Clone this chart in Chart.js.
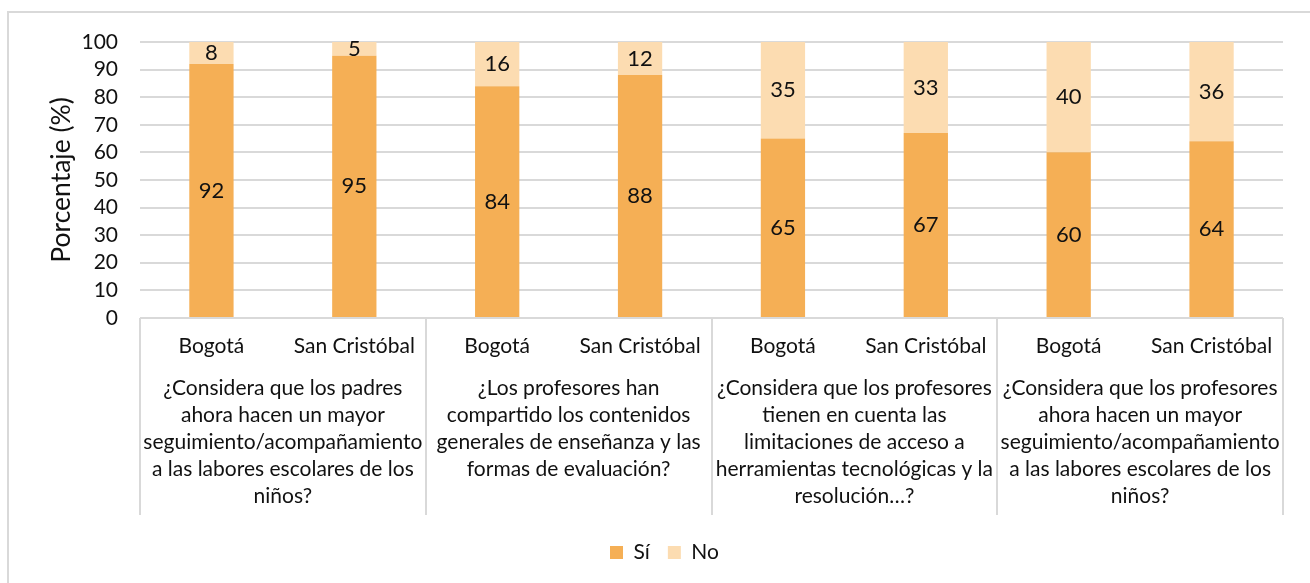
<!DOCTYPE html>
<html>
<head>
<meta charset="utf-8">
<script src="https://cdn.jsdelivr.net/npm/chart.js@4"></script>
<style>
  html, body { margin: 0; padding: 0; background: #fff; }
  #wrap { position: relative; width: 1310px; height: 583px; overflow: hidden; }
  #frame { position: absolute; left: 7px; top: 11px; width: 1320px; height: 600px;
           border-top: 2px solid #d9d9d9; border-left: 2px solid #d9d9d9; }
  canvas { position: absolute; left: 0; top: 0; }
</style>
</head>
<body>
<div id="wrap">
  <div id="frame"></div>
  <canvas id="chart" width="1310" height="583"></canvas>
</div>
<script>
const cities = ['Bogotá', 'San Cristóbal', 'Bogotá', 'San Cristóbal', 'Bogotá', 'San Cristóbal', 'Bogotá', 'San Cristóbal'];
const questions = [
    ['¿Considera que los padres', 'ahora hacen un mayor', 'seguimiento/acompañamiento', 'a las labores escolares de los', 'niños?'],
    ['¿Los profesores han', 'compartido los contenidos', 'generales de enseñanza y las', 'formas de evaluación?'],
    ['¿Considera que los profesores', 'tienen en cuenta las', 'limitaciones de acceso a', 'herramientas tecnológicas y la', 'resolución…?'],
    ['¿Considera que los profesores', 'ahora hacen un mayor', 'seguimiento/acompañamiento', 'a las labores escolares de los', 'niños?']
];
const si = [92, 95, 84, 88, 65, 67, 60, 64];
const no = [8, 5, 16, 12, 35, 33, 40, 36];
const yTicks = [0, 10, 20, 30, 40, 50, 60, 70, 80, 90, 100];

const FONT = 'Lato, "Noto Sans", sans-serif';
const GRID = '#d9d9d9';
const LEGEND_GAP = 14;

// numbers in the middle of each stacked segment
const segmentLabels = {
    id: 'segmentLabels',
    afterDatasetsDraw(chart) {
        const ctx = chart.ctx;
        ctx.save();
        ctx.font = '22px ' + FONT;
        ctx.fillStyle = '#111';
        ctx.textAlign = 'center';
        ctx.textBaseline = 'middle';
        chart.data.datasets.forEach((ds, i) => {
            chart.getDatasetMeta(i).data.forEach((bar, j) => {
                ctx.fillText(ds.data[j], bar.x, (bar.y + bar.base) / 2);
            });
        });
        ctx.restore();
    }
};

// vertical dividers between the question groups, through both label rows
const groupDividers = {
    id: 'groupDividers',
    afterDraw(chart) {
        const x = chart.scales.x;
        const g = chart.scales.groups;
        const per = cities.length / questions.length;
        const ctx = chart.ctx;
        ctx.save();
        ctx.strokeStyle = GRID;
        ctx.lineWidth = 2;
        for (let k = 0; k <= questions.length; k++) {
            let px;
            if (k === 0) px = chart.chartArea.left;
            else if (k === questions.length) px = chart.chartArea.right;
            else px = (x.getPixelForValue(k * per - 1) + x.getPixelForValue(k * per)) / 2;
            ctx.beginPath();
            ctx.moveTo(Math.round(px), chart.chartArea.bottom);
            ctx.lineTo(Math.round(px), g.bottom - LEGEND_GAP + 5);
            ctx.stroke();
        }
        ctx.restore();
    }
};

new Chart(document.getElementById('chart').getContext('2d'), {
    type: 'bar',
    data: {
        labels: cities,
        datasets: [
            { label: 'Sí', data: si, backgroundColor: '#f5af55' },
            { label: 'No', data: no, backgroundColor: '#fcdcb1' }
        ]
    },
    options: {
        responsive: false,
        animation: false,
        categoryPercentage: 1,
        barPercentage: 0.31,
        layout: { padding: { left: 46, right: 27, top: 42, bottom: 10 } },
        plugins: {
            legend: {
                position: 'bottom',
                labels: {
                    font: { family: FONT, size: 21 },
                    color: '#111',
                    boxWidth: 13,
                    boxHeight: 13,
                    padding: 18
                }
            },
            tooltip: { enabled: false }
        },
        scales: {
            x: {
                stacked: true,
                grid: { display: false },
                border: { display: false },
                ticks: {
                    font: { family: FONT, size: 21 },
                    color: '#111',
                    maxRotation: 0,
                    autoSkip: false,
                    padding: 8
                }
            },
            groups: {
                type: 'category',
                position: 'bottom',
                labels: questions,
                offset: true,
                grid: { display: false },
                border: { display: false },
                afterFit(scale) {
                    scale.height += LEGEND_GAP;
                },
                ticks: {
                    font: { family: FONT, size: 21, lineHeight: 1.285 },
                    color: '#111',
                    maxRotation: 0,
                    autoSkip: false,
                    padding: 0
                }
            },
            y: {
                stacked: true,
                min: 0,
                max: 100,
                afterBuildTicks(scale) {
                    scale.ticks = yTicks.map(v => ({ value: v }));
                },
                afterFit(scale) {
                    scale.width = 94;
                },
                grid: { color: GRID, lineWidth: 2, drawTicks: false },
                border: { display: false },
                ticks: {
                    font: { family: FONT, size: 21 },
                    color: '#111',
                    autoSkip: false,
                    padding: 22
                },
                title: {
                    display: true,
                    text: 'Porcentaje (%)',
                    font: { family: FONT, size: 26.5 },
                    color: '#111',
                    padding: { top: 0, bottom: 4 }
                }
            }
        }
    },
    plugins: [segmentLabels, groupDividers]
});
</script>
</body>
</html>
